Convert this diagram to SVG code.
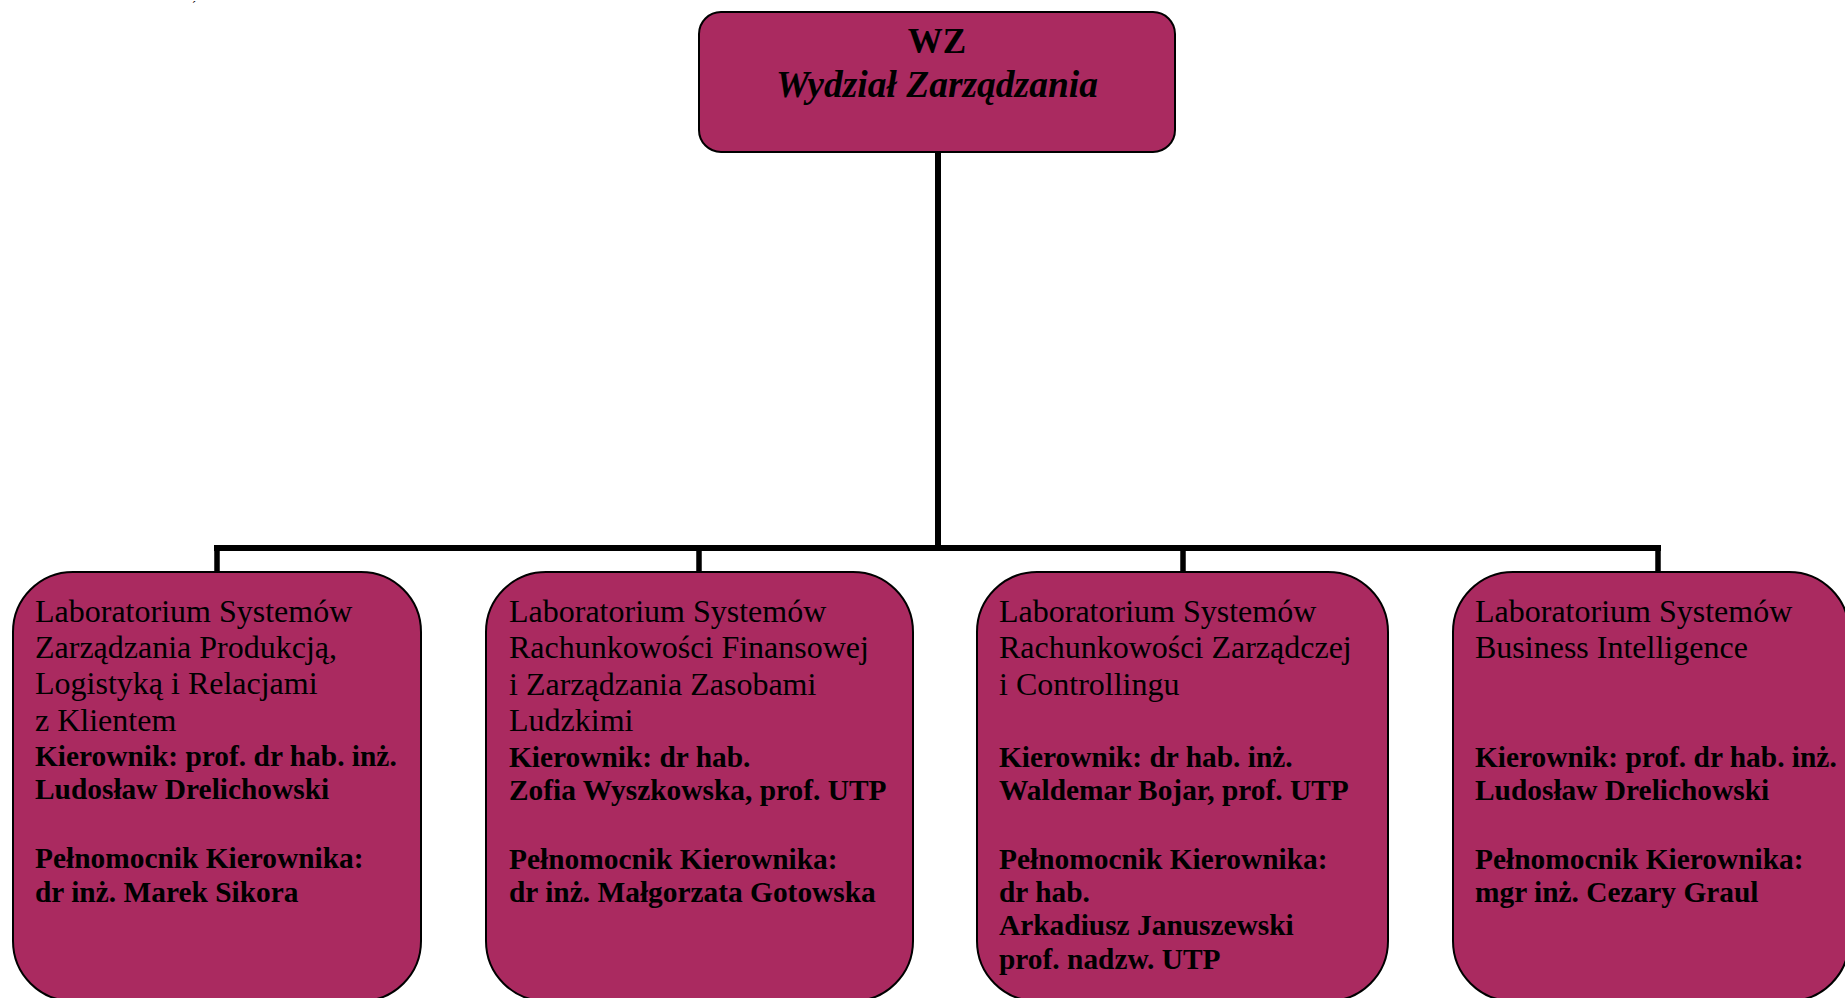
<svg xmlns="http://www.w3.org/2000/svg" width="1845" height="998" viewBox="0 0 1845 998">
<style>
.box{fill:#AA2A60;stroke:#000;stroke-width:2}
.reg{font-family:"Liberation Serif",serif;font-size:32px;fill:#000}
.bold{font-family:"Liberation Serif",serif;font-size:29.4px;font-weight:bold;fill:#000}
.conn{stroke:#000;fill:none;stroke-linecap:square}
</style>
<rect width="1845" height="998" fill="#fff"/>
<text x="192" y="10" font-family="Liberation Serif,serif" font-size="12">´</text>
<g id="connectors">
<line class="conn" x1="938" y1="152" x2="938" y2="548" stroke-width="6"/>
<line class="conn" x1="217" y1="548" x2="1658" y2="548" stroke-width="6"/>
<line class="conn" x1="217" y1="548" x2="217" y2="572" stroke-width="5.5"/>
<line class="conn" x1="699" y1="548" x2="699" y2="572" stroke-width="5.5"/>
<line class="conn" x1="1183" y1="548" x2="1183" y2="572" stroke-width="5.5"/>
<line class="conn" x1="1658" y1="548" x2="1658" y2="572" stroke-width="5.5"/>
</g>
<g id="node-wz">
<rect class="box" x="699" y="12" width="476" height="140" rx="22"/>
<text x="937" y="53" text-anchor="middle" font-family="Liberation Serif,serif" font-size="35" font-weight="bold">WZ</text>
<text x="937" y="97" text-anchor="middle" font-family="Liberation Serif,serif" font-size="37.5" font-weight="bold" font-style="italic">Wydział Zarządzania</text>
</g>
<g id="node-lab1">
<rect class="box" x="13" y="572" width="408" height="429" rx="60"/>
<text class="reg" x="35" y="622">Laboratorium Systemów</text>
<text class="reg" x="35" y="658">Zarządzania Produkcją,</text>
<text class="reg" x="35" y="694">Logistyką i Relacjami</text>
<text class="reg" x="35" y="731">z Klientem</text>
<text class="bold" x="35" y="766">Kierownik: prof. dr hab. inż.</text>
<text class="bold" x="35" y="799">Ludosław Drelichowski</text>
<text class="bold" x="35" y="868">Pełnomocnik Kierownika:</text>
<text class="bold" x="35" y="902">dr inż. Marek Sikora</text>
</g>
<g id="node-lab2">
<rect class="box" x="486" y="572" width="427" height="429" rx="60"/>
<text class="reg" x="509" y="622">Laboratorium Systemów</text>
<text class="reg" x="509" y="658">Rachunkowości Finansowej</text>
<text class="reg" x="509" y="695">i Zarządzania Zasobami</text>
<text class="reg" x="509" y="731">Ludzkimi</text>
<text class="bold" x="509" y="767">Kierownik: dr hab.</text>
<text class="bold" x="509" y="800">Zofia Wyszkowska, prof. UTP</text>
<text class="bold" x="509" y="869">Pełnomocnik Kierownika:</text>
<text class="bold" x="509" y="902">dr inż. Małgorzata Gotowska</text>
</g>
<g id="node-lab3">
<rect class="box" x="977" y="572" width="411" height="429" rx="60"/>
<text class="reg" x="999" y="622">Laboratorium Systemów</text>
<text class="reg" x="999" y="658">Rachunkowości Zarządczej</text>
<text class="reg" x="999" y="695">i Controllingu</text>
<text class="bold" x="999" y="767">Kierownik: dr hab. inż.</text>
<text class="bold" x="999" y="800">Waldemar Bojar, prof. UTP</text>
<text class="bold" x="999" y="869">Pełnomocnik Kierownika:</text>
<text class="bold" x="999" y="902">dr hab.</text>
<text class="bold" x="999" y="935">Arkadiusz Januszewski</text>
<text class="bold" x="999" y="969">prof. nadzw. UTP</text>
</g>
<g id="node-lab4">
<rect class="box" x="1453" y="572" width="396" height="429" rx="60"/>
<text class="reg" x="1475" y="622">Laboratorium Systemów</text>
<text class="reg" x="1475" y="658">Business Intelligence</text>
<text class="bold" x="1475" y="767">Kierownik: prof. dr hab. inż.</text>
<text class="bold" x="1475" y="800">Ludosław Drelichowski</text>
<text class="bold" x="1475" y="869">Pełnomocnik Kierownika:</text>
<text class="bold" x="1475" y="902">mgr inż. Cezary Graul</text>
</g>
</svg>
